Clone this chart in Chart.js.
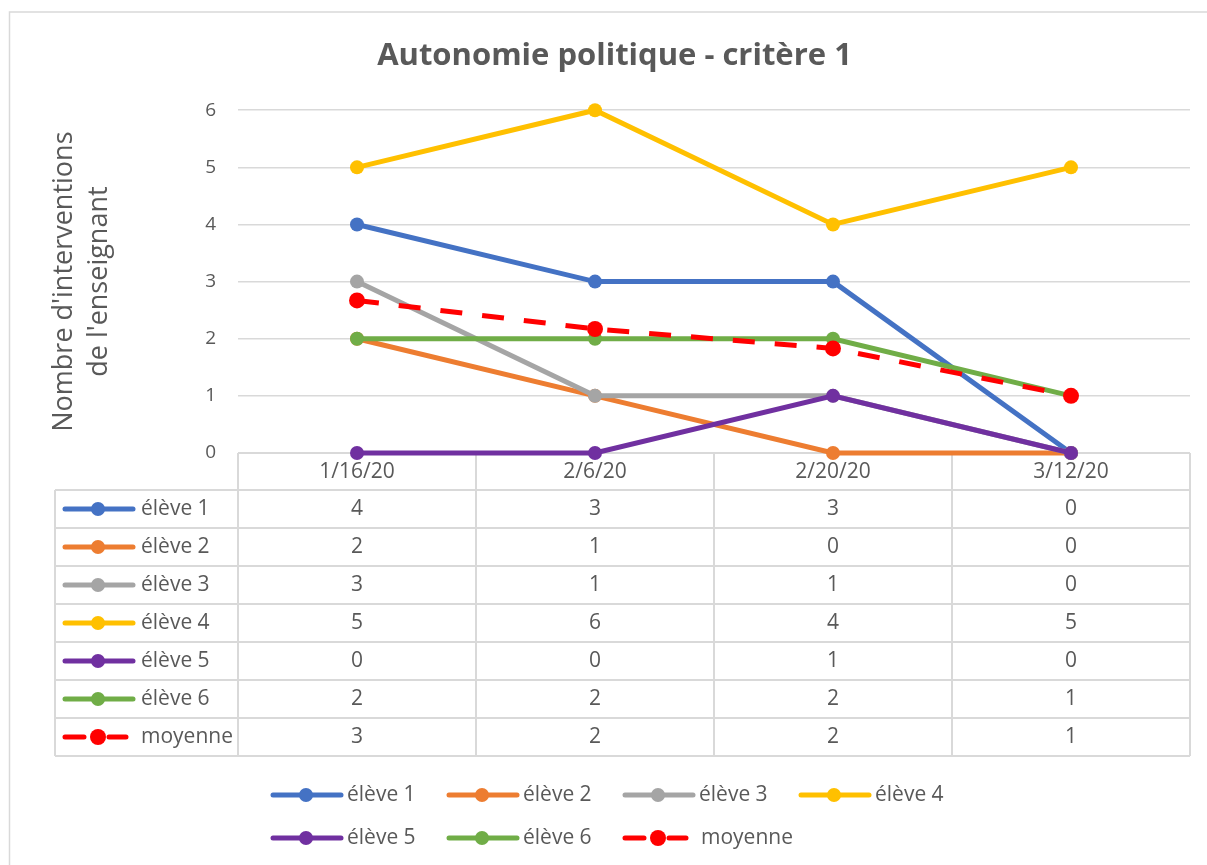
<!DOCTYPE html>
<html>
<head>
<meta charset="utf-8">
<script src="https://cdn.jsdelivr.net/npm/chart.js@4.4.1/dist/chart.umd.min.js"></script>
<style>
    html, body { margin: 0; padding: 0; background: #fff; }
    #wrap { width: 1207px; height: 865px; }
</style>
</head>
<body>
<div id="wrap"><canvas id="chart" width="1207" height="865"></canvas></div>
<script>
const dates = ['1/16/20', '2/6/20', '2/20/20', '3/12/20'];
const eleve1 = [4, 3, 3, 0];
const eleve2 = [2, 1, 0, 0];
const eleve3 = [3, 1, 1, 0];
const eleve4 = [5, 6, 4, 5];
const eleve5 = [0, 0, 1, 0];
const eleve6 = [2, 2, 2, 1];
const moyenne = [2.67, 2.17, 1.83, 1];
const seriesNames = ['élève 1', 'élève 2', 'élève 3', 'élève 4', 'élève 5', 'élève 6', 'moyenne'];
const seriesColors = ['#4472C4', '#ED7D31', '#A5A5A5', '#FFC000', '#7030A0', '#70AD47', '#FF0000'];
const seriesValues = [eleve1, eleve2, eleve3, eleve4, eleve5, eleve6, moyenne];

const TEXT = '#595959';
const LINE = '#D9D9D9';
const FONT = "'Open Sans', sans-serif";

Chart.defaults.font.family = FONT;
Chart.defaults.color = TEXT;

// little line + marker sample, used in the table and in the legend
function drawSymbol(ctx, x0, y, color, dashed) {
    ctx.save();
    ctx.strokeStyle = color;
    ctx.fillStyle = color;
    ctx.lineWidth = 5;
    ctx.lineCap = 'round';
    ctx.beginPath();
    if (dashed) {
        ctx.moveTo(x0 + 2, y); ctx.lineTo(x0 + 21, y);
        ctx.moveTo(x0 + 46, y); ctx.lineTo(x0 + 63, y);
    } else {
        ctx.moveTo(x0 + 2, y); ctx.lineTo(x0 + 70, y);
    }
    ctx.stroke();
    ctx.beginPath();
    ctx.arc(x0 + 35, y, dashed ? 8 : 7, 0, Math.PI * 2);
    ctx.fill();
    ctx.restore();
}

const tableAndLegend = {
    id: 'tableAndLegend',
    beforeDatasetsDraw(chart) {
        const ctx = chart.ctx;
        const area = chart.chartArea;
        const xs = chart.scales.x;
        const colW = (area.right - area.left) / dates.length;
        const top = area.bottom;
        const headH = 37, rowH = 38, labelLeft = 55;
        const bottom = top + headH + rowH * seriesNames.length;

        ctx.save();
        // outer chart frame
        ctx.strokeStyle = LINE;
        ctx.lineWidth = 1.5;
        ctx.strokeRect(9.5, 12, 1300, 1000);

        // table grid
        ctx.lineWidth = 2;
        ctx.beginPath();
        ctx.moveTo(area.left, top); ctx.lineTo(area.right, top);
        for (let r = 0; r <= seriesNames.length; r++) {
            const y = top + headH + r * rowH;
            ctx.moveTo(labelLeft, y); ctx.lineTo(area.right, y);
        }
        for (let c = 0; c <= dates.length; c++) {
            const x = area.left + c * colW;
            ctx.moveTo(x, top); ctx.lineTo(x, bottom);
        }
        ctx.moveTo(labelLeft, top + headH); ctx.lineTo(labelLeft, bottom);
        ctx.stroke();

        ctx.fillStyle = TEXT;
        ctx.font = '21px ' + FONT;
        ctx.textBaseline = 'middle';
        ctx.textAlign = 'center';
        dates.forEach((d, i) => ctx.fillText(d, xs.getPixelForValue(i), top + headH / 2 + 1));

        seriesNames.forEach((name, r) => {
            const yc = top + headH + r * rowH + rowH / 2;
            drawSymbol(ctx, 63, yc, seriesColors[r], r === 6);
            ctx.textAlign = 'left';
            ctx.fillStyle = TEXT;
            ctx.fillText(name, 141, yc);
            ctx.textAlign = 'center';
            seriesValues[r].forEach((v, i) => ctx.fillText(String(Math.round(v)), xs.getPixelForValue(i), yc));
        });

        // legend below the table
        seriesNames.forEach((name, i) => {
            const col = i % 4, row = Math.floor(i / 4);
            const x0 = 271 + col * 176;
            const y = 795 + row * 43;
            drawSymbol(ctx, x0, y, seriesColors[i], i === 6);
            ctx.textAlign = 'left';
            ctx.fillStyle = TEXT;
            ctx.fillText(name, x0 + (i === 6 ? 78 : 76), y);
        });
        ctx.restore();
    }
};

new Chart(document.getElementById('chart'), {
    type: 'line',
    data: {
        labels: dates,
        datasets: seriesNames.map((name, i) => ({
            label: name,
            data: seriesValues[i],
            borderColor: seriesColors[i],
            backgroundColor: seriesColors[i],
            pointBackgroundColor: seriesColors[i],
            pointBorderWidth: 0,
            pointRadius: i === 6 ? 8 : 7,
            borderWidth: 5,
            borderDash: i === 6 ? [22, 20] : [],
            tension: 0,
            clip: false,
            order: seriesNames.length - i
        }))
    },
    options: {
        responsive: false,
        animation: false,
        devicePixelRatio: 1,
        layout: { padding: { left: 39, right: 17, top: 0, bottom: 0 } },
        plugins: {
            legend: { display: false },
            tooltip: { enabled: false },
            title: {
                display: true,
                text: 'Autonomie politique - critère 1',
                color: TEXT,
                font: { family: FONT, size: 31, weight: 'bold' },
                padding: { top: 38, bottom: 35 }
            }
        },
        scales: {
            x: {
                offset: true,
                grid: { display: false },
                border: { display: false },
                ticks: { display: false },
                afterFit(scale) { scale.height = 412; }
            },
            y: {
                min: 0,
                max: 6,
                ticks: { stepSize: 1, padding: 22, color: TEXT, font: { size: 19 } },
                grid: { color: LINE, lineWidth: 1.5, drawTicks: false },
                border: { display: false },
                title: {
                    display: true,
                    text: ["Nombre d'interventions", "de l'enseignant"],
                    color: TEXT,
                    font: { size: 27, lineHeight: 1.3 },
                    padding: { top: 7.5, bottom: 0 }
                },
                afterFit(scale) { scale.width = 199; }
            }
        }
    },
    plugins: [tableAndLegend]
});
</script>
</body>
</html>
